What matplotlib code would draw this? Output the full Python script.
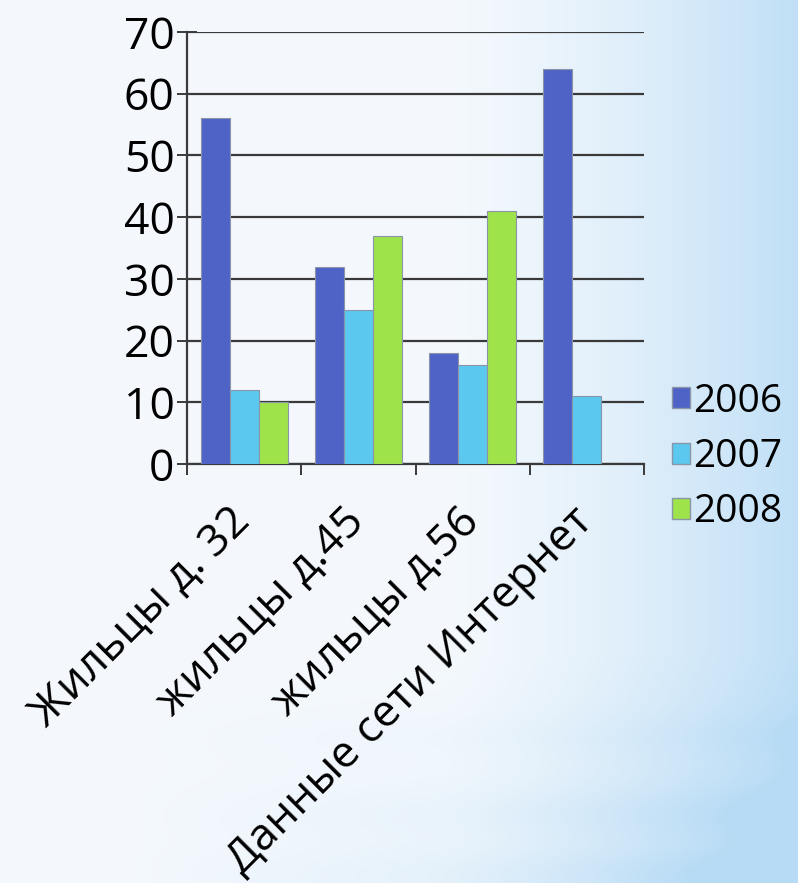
import numpy as np
import matplotlib
matplotlib.use("Agg")
import matplotlib.pyplot as plt
from matplotlib.patches import Patch

categories = ["Жильцы д. 32", "жильцы д.45", "жильцы д.56", "Данные сети Интернет"]
series_names = ["2006", "2007", "2008"]
v2006 = [56, 32, 18, 64]
v2007 = [12, 25, 16, 11]
v2008 = [10, 37, 41, np.nan]
yticks = [0, 10, 20, 30, 40, 50, 60, 70]

colors = ["#4f63c6", "#5bc8ef", "#9ee34a"]

plt.rcParams['font.family'] = ['Open Sans', 'DejaVu Sans']

W, H = 798, 883
fig = plt.figure(figsize=(W / 100, H / 100), dpi=100)

# background gradient
bg = fig.add_axes([0, 0, 1, 1], zorder=-10)
xs = np.linspace(0, 1, 400)[None, :]
ys = np.linspace(0, 1, 400)[:, None]
a = 0.06 + 0.8 * np.clip((xs - 0.55) / 0.45, 0, 1) ** 1.4
bottom = np.clip((ys - 0.74) / 0.26, 0, 1) * np.clip((xs - 0.15) / 0.85, 0, 1)
bands = 0.55 + 0.45 * (np.exp(-((ys - 0.83) / 0.025) ** 2)
                       + np.exp(-((ys - 0.92) / 0.03) ** 2)
                       + np.exp(-((ys - 0.99) / 0.03) ** 2))
a = np.clip(a + 0.55 * bottom * bands, 0, 1)
c0 = np.array([0.975, 0.983, 0.995])
c1 = np.array([0.72, 0.86, 0.96])
img = c0[None, None, :] * (1 - a[..., None]) + c1[None, None, :] * a[..., None]
bg.imshow(img, aspect='auto', extent=[0, 1, 0, 1], origin='upper')
bg.set_axis_off()

ax = fig.add_axes([187 / W, (H - 464) / H, (644 - 187) / W, (464 - 32) / H])
ax.patch.set_alpha(0)

x = np.arange(len(categories)) + 0.5
bw = 0.254
for i, (vals, name) in enumerate(zip([v2006, v2007, v2008], series_names)):
    ax.bar(x + (i - 1) * bw, vals, width=bw, color=colors[i], edgecolor="#8a96a8",
           linewidth=0.8, label=name, zorder=3)

ax.set_xlim(0, 4)
ax.set_ylim(0, 70)
ax.set_yticks(yticks)
ax.set_yticklabels([str(v) for v in yticks], fontsize=32)
ax.yaxis.grid(True, color="#3a3a3a", linewidth=1.6, zorder=1)
ax.set_axisbelow(True)
ax.tick_params(axis='y', direction='inout', length=14, width=1.4, color="#3a3a3a", pad=2)

ax.set_xticks([0, 1, 2, 3, 4])
ax.set_xticklabels([])
ax.tick_params(axis='x', direction='out', length=8, width=1.4, color="#3a3a3a")
ax.set_xticks(x, minor=True)
ax.set_xticklabels(categories, minor=True, rotation=45, ha='right', va='center',
                   rotation_mode='anchor', fontsize=32)
ax.tick_params(axis='x', which='minor', length=0, pad=37)

for s in ['top', 'right']:
    ax.spines[s].set_visible(False)
for s in ['left', 'bottom']:
    ax.spines[s].set_color("#3a3a3a")
    ax.spines[s].set_linewidth(1.6)

handles = [Patch(facecolor=colors[i], edgecolor="#8a96a8", label=series_names[i]) for i in range(3)]
fig.legend(handles=handles, loc='center left', bbox_to_anchor=(672 / W, 1 - 457 / H),
           frameon=False, fontsize=28, handlelength=0.45, handleheight=0.45,
           handletextpad=0.1, labelspacing=0.45, borderpad=0, borderaxespad=0)

fig.savefig("out.png", dpi=100)
